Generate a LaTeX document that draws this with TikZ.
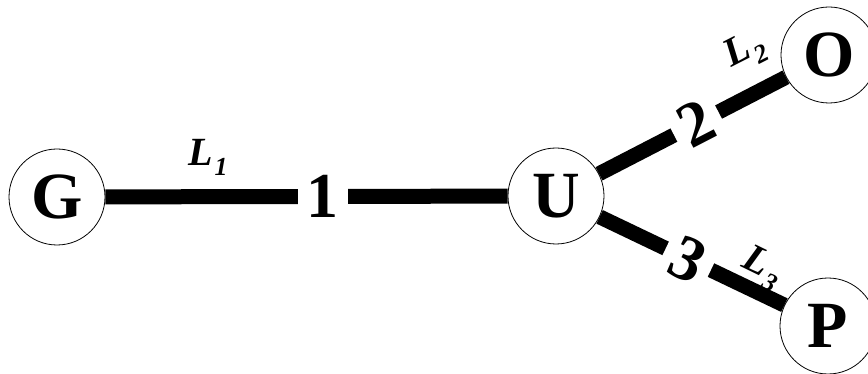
\documentclass[tikz,border=0pt]{standalone}
\usepackage{fontspec}
\setmainfont{Liberation Serif}
\begin{document}
\begin{tikzpicture}[x=1pt,y=-1pt]
\useasboundingbox[fill=white] (0,0) rectangle (868,374);
\tikzset{
  vert/.style={circle,draw,line width=0.8pt,minimum size=96pt,inner sep=0pt,
    font=\fontsize{66}{66}\selectfont\bfseries},
  link/.style={line width=15pt},
  num/.style={fill=white,inner xsep=9pt,inner ysep=2pt,
    font=\fontsize{64}{64}\selectfont\bfseries},
  lab/.style={inner sep=0pt,font=\fontsize{40}{40}\selectfont\bfseries\itshape}
}
\newcommand{\lsub}[2]{#1\kern2pt\raisebox{-0.25em}{\fontsize{26}{26}\selectfont #2}}
\node[vert] (G) at (57,197) {G};
\node[vert] (U) at (556,196) {U};
\node[vert] (O) at (829,55) {O};
\node[vert] (P) at (828,326) {P};
\draw[link] (G) -- node[num,pos=0.54] (n1) {1} (U);
\draw[link] (U) -- node[num,sloped,pos=0.52] (n2) {2} (O);
\draw[link] (U) -- node[num,sloped,pos=0.48] (n3) {3} (P);
\node[lab] (l1) at (208,157) {\lsub{L}{1}};
\node[lab,rotate=27] (l2) at (745,51) {\lsub{L}{2}};
\node[lab,rotate=-26] (l3) at (762,268) {\lsub{L}{3}};
\end{tikzpicture}
\end{document}
